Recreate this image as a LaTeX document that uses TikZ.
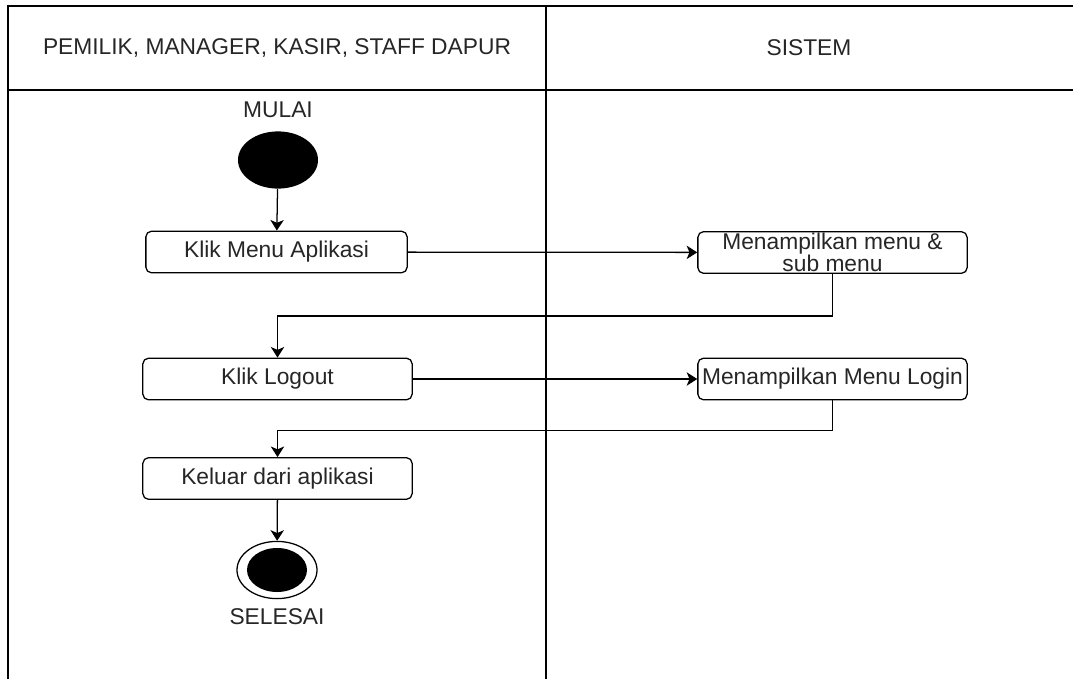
\documentclass[tikz,border=0pt]{standalone}
\usepackage{fontspec}
\setmainfont{Liberation Sans}
\usetikzlibrary{shapes.geometric,arrows.meta}

\begin{document}
\begin{tikzpicture}[x=0.025cm, y=-0.025cm, line width=0.9pt,
    >={Stealth[length=7.5pt,width=9.5pt,inset=2pt]},
    lane/.style={line width=1.4pt},
    act node/.style={rectangle, rounded corners=4pt, draw, minimum height=1.04cm},
    start node/.style={ellipse, fill=black, minimum width=2cm, minimum height=1.43cm},
    end node/.style={ellipse, draw, minimum width=2cm, minimum height=1.43cm}]
        \tikzstyle{every node}=[font=\fontsize{16.2}{14}\selectfont, text=black!85, inner sep=0pt]
        \useasboundingbox (0,0) rectangle (1073,679);

          \draw[lane] (8,679) -- (8,6) -- (1073,6);
          \draw[lane] (8,90) -- (1073,90);
          \draw[lane] (546,6) -- (546,679);

          \node (lane1) at (277,48) {PEMILIK, MANAGER, KASIR, STAFF DAPUR};
          \node (lane2) at (809,48) {SISTEM};

          \node (mulai) at (278,110) {MULAI};
          \node[start node] (1) at (278,160) {};
          \node[act node, minimum width=6.53cm] (2) at (276.5,252) {Klik Menu Aplikasi};
          \node[act node, minimum width=6.73cm, align=center] (3) at (832.5,252.5) {Menampilkan menu \&\\sub menu};
          \node[act node, minimum width=6.73cm] (4) at (277.5,379) {Klik Logout};
          \node[act node, minimum width=6.73cm] (5) at (832.5,379) {Menampilkan Menu Login};
          \node[act node, minimum width=6.73cm] (6) at (277.5,478.5) {Keluar dari aplikasi};
          \node[end node] (7) at (277,570) {};
          \fill (7.center) ellipse (0.75cm and 0.55cm);
          \node (selesai) at (277,617) {SELESAI};

          \path[->]
            (1) edge (2)
            (2) edge (3)
            (4) edge (5)
            (6) edge (7);
          \draw[->] (3.south) -- ++(0,42) -| (4.north);
          \draw[->] (5.south) -- ++(0,30) -| (6.north);

\end{tikzpicture}
\end{document}
